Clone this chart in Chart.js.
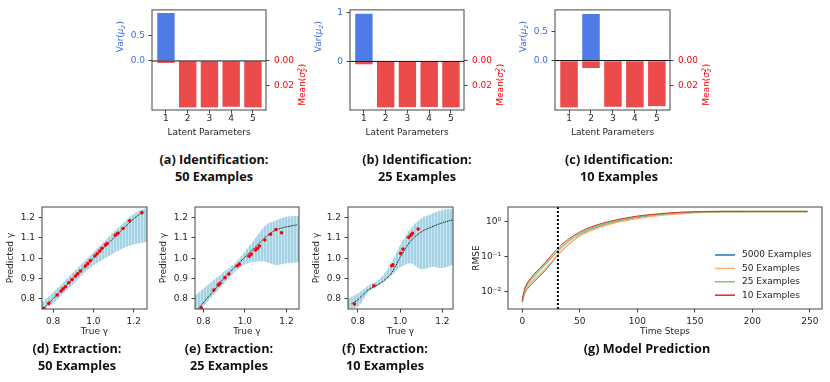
<!DOCTYPE html>
<html>
<head>
<meta charset="utf-8">
<script src="https://cdn.jsdelivr.net/npm/chart.js@4"></script>
<style>
  html, body { margin: 0; padding: 0; background: #fff; }
  #fig { position: relative; width: 830px; height: 382px; overflow: hidden; }
  #fig canvas { position: absolute; }
  .cap {
    position: absolute; width: 220px; text-align: center; color: #111;
    font-family: "Liberation Sans Narrow", "Open Sans", sans-serif;
    font-weight: bold; font-size: 13px; line-height: 17px; white-space: nowrap;
  }
  .cap span { display: block; transform-origin: 50% 50%; }
</style>
</head>
<body>
<div id="fig">
  <canvas id="ca" width="222" height="140" style="left:100px;top:0px"></canvas>
  <canvas id="cb" width="222" height="140" style="left:298px;top:0px"></canvas>
  <canvas id="cc" width="223" height="140" style="left:503px;top:0px"></canvas>
  <canvas id="cd" width="155" height="145" style="left:0px;top:195px"></canvas>
  <canvas id="ce" width="154" height="145" style="left:153px;top:195px"></canvas>
  <canvas id="cf" width="155" height="145" style="left:306px;top:195px"></canvas>
  <canvas id="cg" width="364" height="145" style="left:466px;top:195px"></canvas>

  <div class="cap" style="left:104px;top:151px"><span>(a) Identification:</span><span>50 Examples</span></div>
  <div class="cap" style="left:307px;top:151px"><span>(b) Identification:</span><span>25 Examples</span></div>
  <div class="cap" style="left:509px;top:151px"><span>(c) Identification:</span><span>10 Examples</span></div>
  <div class="cap" style="left:-33px;top:340px"><span>(d) Extraction:</span><span>50 Examples</span></div>
  <div class="cap" style="left:119px;top:340px"><span>(e) Extraction:</span><span>25 Examples</span></div>
  <div class="cap" style="left:275px;top:340px"><span>(f) Extraction:</span><span>10 Examples</span></div>
  <div class="cap" style="left:537px;top:340px"><span>(g) Model Prediction</span></div>
</div>
<script>
// --- identification: variance of the latent means and mean latent variance
const latentParams = [1, 2, 3, 4, 5];
const varA  = [0.93, 0, 0, 0, 0];
const meanA = [0.0017, 0.0375, 0.0375, 0.0370, 0.0375];
const varB  = [0.98, 0, 0, 0, 0];
const meanB = [0.0028, 0.0375, 0.0373, 0.0372, 0.0375];
const varC  = [0, 0.80, 0, 0, 0];
const meanC = [0.0375, 0.0058, 0.0370, 0.0375, 0.0365];
const meanTicks = [0, 0.02];

// --- extraction: predicted vs true gamma
const gammaTicks = [0.8, 1.0, 1.2];
const predTicks = [0.8, 0.9, 1.0, 1.1, 1.2];

const bandXD  = [0.745, 0.80, 0.85, 0.90, 0.95, 1.00, 1.05, 1.10, 1.15, 1.20, 1.266];
const bandLoD = [0.745, 0.775, 0.825, 0.872, 0.922, 0.965, 0.995, 1.025, 1.050, 1.068, 1.080];
const bandHiD = [0.780, 0.830, 0.880, 0.930, 0.980, 1.030, 1.080, 1.130, 1.175, 1.220, 1.250];
const curveXD = [0.755, 0.80, 0.85, 0.90, 0.95, 1.00, 1.05, 1.10, 1.15, 1.20, 1.24];
const curveYD = [0.755, 0.80, 0.85, 0.90, 0.95, 1.00, 1.05, 1.10, 1.148, 1.195, 1.225];
const redXD = [0.754, 0.779, 0.820, 0.840, 0.850, 0.861, 0.878, 0.894, 0.911, 0.922, 0.936, 0.960, 0.972,
               0.985, 1.007, 1.018, 1.031, 1.043, 1.060, 1.068, 1.109, 1.121, 1.147, 1.180, 1.241];
const redYD = [0.752, 0.777, 0.818, 0.838, 0.849, 0.859, 0.879, 0.895, 0.912, 0.923, 0.937, 0.961, 0.973,
               0.988, 1.011, 1.022, 1.035, 1.049, 1.065, 1.073, 1.114, 1.123, 1.147, 1.185, 1.225];

const bandXE  = [0.76, 0.80, 0.85, 0.90, 0.95, 1.00, 1.05, 1.10, 1.15, 1.20, 1.26];
const bandLoE = [0.745, 0.765, 0.820, 0.875, 0.930, 0.970, 0.983, 0.983, 0.966, 0.975, 0.980];
const bandHiE = [0.815, 0.850, 0.892, 0.933, 0.974, 1.032, 1.098, 1.164, 1.188, 1.205, 1.210];
const curveXE = [0.775, 0.80, 0.85, 0.90, 0.95, 1.00, 1.05, 1.10, 1.14, 1.18, 1.25];
const curveYE = [0.750, 0.780, 0.840, 0.903, 0.955, 1.005, 1.055, 1.105, 1.135, 1.150, 1.165];
const redXE = [0.790, 0.851, 0.872, 0.880, 0.904, 0.923, 0.963, 0.973, 1.020, 1.030, 1.050, 1.060, 1.070, 1.096, 1.123, 1.149, 1.176];
const redYE = [0.755, 0.843, 0.868, 0.876, 0.904, 0.922, 0.963, 0.970, 1.010, 1.020, 1.040, 1.048, 1.060, 1.090, 1.118, 1.142, 1.126];

const bandXF  = [0.753, 0.80, 0.85, 0.90, 0.95, 1.00, 1.05, 1.10, 1.15, 1.20, 1.25];
const bandLoF = [0.750, 0.760, 0.832, 0.866, 0.905, 0.955, 0.975, 0.945, 0.958, 0.952, 0.966];
const bandHiF = [0.800, 0.826, 0.865, 0.895, 0.960, 1.065, 1.147, 1.197, 1.220, 1.238, 1.243];
const curveXF = [0.77, 0.80, 0.85, 0.90, 0.95, 0.975, 1.00, 1.05, 1.10, 1.15, 1.20, 1.25];
const curveYF = [0.775, 0.795, 0.845, 0.872, 0.915, 0.955, 1.005, 1.085, 1.130, 1.155, 1.175, 1.190];
const redXF = [0.784, 0.876, 0.960, 0.965, 1.002, 1.013, 1.040, 1.051, 1.058, 1.085];
const redYF = [0.774, 0.864, 0.963, 0.967, 1.024, 1.045, 1.103, 1.114, 1.123, 1.144];

// --- model prediction: RMSE over time steps
const timeSteps = [0, 1, 2, 3, 5, 7, 10, 15, 20, 25, 30, 35, 40, 50, 60, 75, 90, 100, 125, 150, 175, 200, 225, 248];
const rmse5000 = [0.0050, 0.0068, 0.0085, 0.0100, 0.0125, 0.0150, 0.019, 0.027, 0.040, 0.062, 0.100, 0.150,
                  0.215, 0.40, 0.59, 0.86, 1.12, 1.28, 1.60, 1.82, 1.90, 1.92, 1.92, 1.92];
const rmse50   = [0.0050, 0.0072, 0.0092, 0.0110, 0.0140, 0.0170, 0.022, 0.031, 0.045, 0.068, 0.105, 0.155,
                  0.220, 0.39, 0.56, 0.82, 1.07, 1.22, 1.55, 1.78, 1.86, 1.88, 1.88, 1.88];
const rmse25   = [0.0050, 0.0078, 0.0105, 0.0130, 0.0170, 0.0210, 0.027, 0.040, 0.060, 0.090, 0.135, 0.195,
                  0.270, 0.45, 0.64, 0.92, 1.18, 1.35, 1.66, 1.85, 1.92, 1.93, 1.93, 1.93];
const rmse10   = [0.0055, 0.0085, 0.0115, 0.0145, 0.0190, 0.0235, 0.031, 0.046, 0.068, 0.105, 0.160, 0.230,
                  0.310, 0.50, 0.70, 0.99, 1.25, 1.42, 1.72, 1.88, 1.94, 1.94, 1.94, 1.94];
const stepTicks = [0, 50, 100, 150, 200, 250];
const rmseTicks = [0.01, 0.1, 1];
const rmseTickLabels = ['10\u207B\u00B2', '10\u207B\u00B9', '10\u2070'];
const markerStep = 31;

const TXT = '#262626';
const EDGE = '#444';
const BLUE = '#4f7be6';
const RED = '#ec4b4b';

// streaky light-blue fill, like the many thin sample lines of the original
function bandPattern() {
  const c = document.createElement('canvas');
  c.width = 3; c.height = 4;
  const g = c.getContext('2d');
  g.fillStyle = '#a3d3e4';
  g.fillRect(0, 0, 3, 4);
  g.fillStyle = '#c9e6f0';
  g.fillRect(2, 0, 1, 4);
  return g.createPattern(c, 'repeat');
}
const BAND = bandPattern();

Chart.defaults.font.family = 'DejaVu Sans';
Chart.defaults.font.size = 9;
Chart.defaults.color = TXT;

const fix = size => s => { if (s.isHorizontal()) s.height = size; else s.width = size; };
const setTicks = values => s => { s.ticks = values.map(v => ({ value: v })); };
const xy = (xs, ys) => xs.map((x, i) => ({ x, y: ys[i] }));
const tickGrid = { drawOnChartArea: false, drawTicks: true, tickLength: 3.5, tickColor: EDGE, tickWidth: 1 };

const framePlugin = {
  id: 'frame',
  afterDraw(chart) {
    const { ctx, chartArea: a } = chart;
    ctx.save();
    ctx.strokeStyle = EDGE;
    ctx.lineWidth = 1;
    ctx.strokeRect(a.left, a.top, a.right - a.left, a.bottom - a.top);
    ctx.restore();
  }
};

const zeroLinePlugin = {
  id: 'zeroLine',
  afterDatasetsDraw(chart) {
    const { ctx, chartArea: a } = chart;
    const y = chart.scales.y.getPixelForValue(0);
    ctx.save();
    ctx.strokeStyle = '#111';
    ctx.lineWidth = 1;
    ctx.beginPath();
    ctx.moveTo(a.left, y);
    ctx.lineTo(a.right, y);
    ctx.stroke();
    ctx.restore();
  }
};

// rotated label with sub/superscripts (matplotlib mathtext look)
function drawRich(ctx, parts, cx, cy, color) {
  ctx.save();
  ctx.translate(cx, cy);
  ctx.rotate(-Math.PI / 2);
  ctx.fillStyle = color;
  ctx.textBaseline = 'middle';
  ctx.textAlign = 'left';
  const fontOf = p => (p.it ? 'italic ' : '') + (p.sub || p.stack ? 6.5 : 9) + 'px "DejaVu Sans"';
  const widths = parts.map(p => {
    ctx.font = fontOf(p);
    if (p.stack) return Math.max(...p.stack.map(s => ctx.measureText(s).width));
    return ctx.measureText(p.t).width;
  });
  let x = -widths.reduce((a, b) => a + b, 0) / 2;
  parts.forEach((p, i) => {
    ctx.font = fontOf(p);
    if (p.stack) {
      ctx.fillText(p.stack[0], x, -3);
      ctx.fillText(p.stack[1], x, 2.5);
    } else {
      ctx.fillText(p.t, x, p.sub ? 2.5 : 0);
    }
    x += widths[i] + (p.stack || p.sub ? 0.5 : 0);
  });
  ctx.restore();
}

const varLabel = [{ t: 'Var(' }, { t: '\u03BC', it: true }, { t: 'z', it: true, sub: true }, { t: ')' }];
const meanLabel = [{ t: 'Mean(' }, { t: '\u03C3', it: true }, { stack: ['2', 'z'], it: true }, { t: ')' }];

const idLabelsPlugin = {
  id: 'idLabels',
  afterDraw(chart) {
    const a = chart.chartArea;
    drawRich(chart.ctx, varLabel, a.left - 31, a.top + 27, 'royalblue');
    drawRich(chart.ctx, meanLabel, a.right + 37, a.bottom - 25, 'red');
  }
};

function identChart(id, vars, means, leftMin, leftMax, leftTicks, leftLabels) {
  return new Chart(document.getElementById(id), {
    type: 'bar',
    data: {
      datasets: [
        { data: xy(latentParams, vars), yAxisID: 'y', backgroundColor: BLUE,
          grouped: false, categoryPercentage: 0.8, barPercentage: 1 },
        { data: xy(latentParams, means), yAxisID: 'y1', backgroundColor: RED,
          grouped: false, categoryPercentage: 0.8, barPercentage: 1 }
      ]
    },
    options: {
      responsive: false, animation: false, events: [],
      layout: { padding: { top: 7, left: 0, right: 0, bottom: 0 } },
      plugins: { legend: { display: false }, tooltip: { enabled: false } },
      scales: {
        x: {
          type: 'linear', min: 0.36, max: 5.6, offset: false,
          afterFit: fix(30), afterBuildTicks: setTicks(latentParams),
          grid: { ...tickGrid, offset: false }, border: { display: false },
          ticks: { padding: 0, color: TXT, maxRotation: 0, callback: v => String(v) },
          title: { display: true, text: 'Latent Parameters', color: TXT, padding: { top: 0, bottom: 1.6 } }
        },
        y: {
          position: 'left', min: leftMin, max: leftMax,
          afterFit: fix(52), afterBuildTicks: setTicks(leftTicks),
          grid: tickGrid, border: { display: false },
          ticks: { padding: 3.5, color: 'royalblue', callback: (v, i) => leftLabels[i] }
        },
        y1: {
          position: 'right', reverse: true, min: -0.041, max: 0.0396,
          afterFit: fix(56), afterBuildTicks: setTicks(meanTicks),
          grid: tickGrid, border: { display: false },
          ticks: { padding: 4.5, color: 'red', callback: v => v.toFixed(2) }
        }
      }
    },
    plugins: [zeroLinePlugin, framePlugin, idLabelsPlugin]
  });
}

identChart('ca', varA, meanA, -0.95, 0.99, [0, 0.5], ['0.0', '0.5']);
identChart('cb', varB, meanB, -1.0, 1.06, [0, 1], ['0', '1']);
identChart('cc', varC, meanC, -0.85, 0.87, [0, 0.5], ['0.0', '0.5']);

function extractChart(id, xMin, xMax, bx, blo, bhi, cx, cy, rx, ry) {
  return new Chart(document.getElementById(id), {
    type: 'scatter',
    data: {
      datasets: [
        { type: 'line', data: xy(bx, blo), showLine: true, borderWidth: 0, pointRadius: 0,
          fill: false, order: 3, tension: 0.3 },
        { type: 'line', data: xy(bx, bhi), showLine: true, borderWidth: 0, pointRadius: 0,
          fill: '-1', backgroundColor: BAND, order: 3, tension: 0.3 },
        { type: 'line', data: xy(cx, cy), showLine: true, borderColor: '#111', borderWidth: 1,
          borderDash: [1.2, 0.8], pointRadius: 0, order: 2, tension: 0.3 },
        { data: xy(rx, ry), backgroundColor: 'red', borderWidth: 0, pointRadius: 1.8, order: 1 }
      ]
    },
    options: {
      responsive: false, animation: false, events: [],
      layout: { padding: { top: 12, left: 0, right: 8, bottom: 0 } },
      plugins: { legend: { display: false }, tooltip: { enabled: false } },
      scales: {
        x: {
          type: 'linear', min: xMin, max: xMax,
          afterFit: fix(31), afterBuildTicks: setTicks(gammaTicks),
          grid: tickGrid, border: { display: false },
          ticks: { padding: 3.4, color: TXT, maxRotation: 0, callback: v => v.toFixed(1) },
          title: { display: true, text: 'True \u03B3', color: TXT, padding: { top: 0, bottom: 2.9 } }
        },
        y: {
          min: 0.749, max: 1.253,
          afterFit: fix(42), afterBuildTicks: setTicks(predTicks),
          grid: tickGrid, border: { display: false },
          ticks: { padding: 3.5, color: TXT, callback: v => v.toFixed(1) },
          title: { display: true, text: 'Predicted \u03B3', color: TXT, padding: { top: 5.6, bottom: 0 } }
        }
      }
    },
    plugins: [framePlugin]
  });
}

extractChart('cd', 0.745, 1.266, bandXD, bandLoD, bandHiD, curveXD, curveYD, redXD, redYD);
extractChart('ce', 0.760, 1.260, bandXE, bandLoE, bandHiE, curveXE, curveYE, redXE, redYE);
extractChart('cf', 0.753, 1.250, bandXF, bandLoF, bandHiF, curveXF, curveYF, redXF, redYF);

const markerPlugin = {
  id: 'marker',
  afterDatasetsDraw(chart) {
    const { ctx, chartArea: a } = chart;
    const x = chart.scales.x.getPixelForValue(markerStep);
    ctx.save();
    ctx.strokeStyle = '#000';
    ctx.lineWidth = 2;
    ctx.setLineDash([2, 2]);
    ctx.beginPath();
    ctx.moveTo(x, a.top);
    ctx.lineTo(x, a.bottom);
    ctx.stroke();
    ctx.restore();
  }
};

const legendPlugin = {
  id: 'innerLegend',
  afterDraw(chart) {
    const { ctx, chartArea: a } = chart;
    ctx.save();
    ctx.font = '9px "DejaVu Sans"';
    ctx.textBaseline = 'middle';
    ctx.fillStyle = TXT;
    chart.data.datasets.forEach((ds, i) => {
      const y = a.bottom - 54 + i * 13.4;
      ctx.strokeStyle = ds.borderColor;
      ctx.lineWidth = 1.5;
      ctx.beginPath();
      ctx.moveTo(a.right - 107, y);
      ctx.lineTo(a.right - 87, y);
      ctx.stroke();
      ctx.fillText(ds.label, a.right - 80, y);
    });
    ctx.restore();
  }
};

new Chart(document.getElementById('cg'), {
  type: 'line',
  data: {
    datasets: [
      { label: '5000 Examples', data: xy(timeSteps, rmse5000), borderColor: '#1f77b4', borderWidth: 1, order: 4 },
      { label: '50 Examples', data: xy(timeSteps, rmse50), borderColor: '#ffb26e', borderWidth: 1.5, order: 3 },
      { label: '25 Examples', data: xy(timeSteps, rmse25), borderColor: '#80c680', borderWidth: 1.5, order: 2 },
      { label: '10 Examples', data: xy(timeSteps, rmse10), borderColor: '#e0282a', borderWidth: 1, order: 1 }
    ]
  },
  options: {
    responsive: false, animation: false, events: [],
    layout: { padding: { top: 12, left: 0, right: 8, bottom: 0 } },
    elements: { point: { radius: 0 }, line: { cubicInterpolationMode: 'monotone' } },
    plugins: { legend: { display: false }, tooltip: { enabled: false } },
    scales: {
      x: {
        type: 'linear', min: -12.4, max: 260.6,
        afterFit: fix(31), afterBuildTicks: setTicks(stepTicks),
        grid: tickGrid, border: { display: false },
        ticks: { padding: 3.4, color: TXT, maxRotation: 0, callback: v => String(v) },
        title: { display: true, text: 'Time Steps', color: TXT, padding: { top: 0, bottom: 2.9 } }
      },
      y: {
        type: 'logarithmic', min: 0.0032, max: 2.58,
        afterFit: fix(42), afterBuildTicks: setTicks(rmseTicks),
        grid: tickGrid, border: { display: false },
        ticks: { padding: 3.5, color: TXT, callback: (v, i) => rmseTickLabels[i] },
        title: { display: true, text: 'RMSE', color: TXT, padding: { top: 5.6, bottom: 0 } }
      }
    }
  },
  plugins: [markerPlugin, framePlugin, legendPlugin]
});

// squeeze the bold captions to the condensed width of the original
(function fitCaptions() {
  const probe = document.createElement('span');
  probe.className = 'cap';
  probe.style.width = 'auto';
  probe.style.visibility = 'hidden';
  probe.textContent = '(a) Identification:';
  document.getElementById('fig').appendChild(probe);
  const k = 109 / probe.getBoundingClientRect().width;
  probe.remove();
  document.querySelectorAll('.cap span').forEach(s => { s.style.transform = 'scaleX(' + k + ')'; });
})();
</script>
</body>
</html>
